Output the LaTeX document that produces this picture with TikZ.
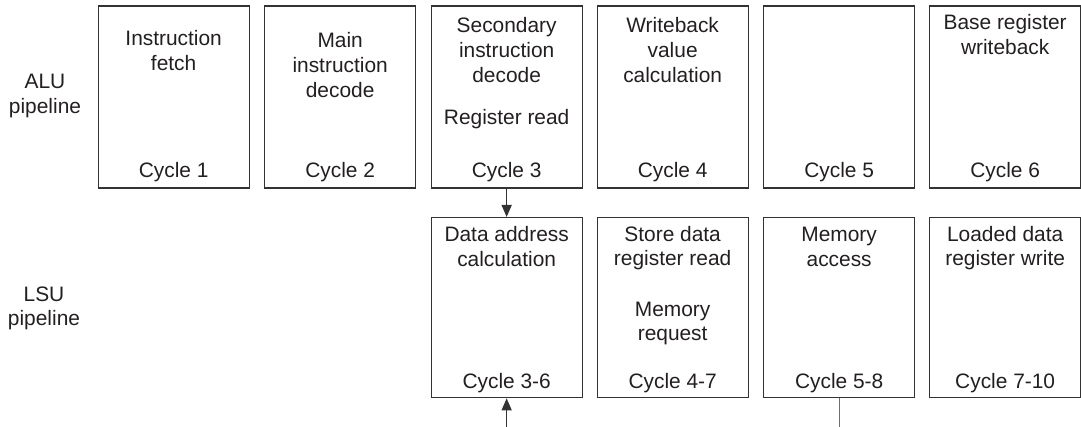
\documentclass[tikz,border=0pt]{standalone}
\usepackage{fontspec}
\setmainfont{Liberation Sans}
\usetikzlibrary{arrows.meta}
\definecolor{ink}{HTML}{231F20}
\definecolor{edge}{HTML}{333333}
\definecolor{faint}{HTML}{6E6E6E}
\begin{document}
\begin{tikzpicture}[x=1pt,y=-1pt,
  stage/.style={draw=edge, line width=1.3pt, minimum width=151pt, inner sep=0pt, anchor=north west},
  toprow/.style={stage, minimum height=182pt},
  lowrow/.style={stage, minimum height=180pt},
  % anchor=base sits on the baseline of the last line
  lbl/.style={text=ink, inner sep=0pt, align=center, anchor=base,
    font=\fontsize{20.9}{24.8}\selectfont},
  link/.style={draw=edge, line width=1.3pt, -{Triangle[length=12pt,width=10pt]}}]
\useasboundingbox (0,0) rectangle (1081,427);

% ALU pipeline stages
\node[toprow] (a1) at (97.5,5.5) {};
\node[toprow] (a2) at (264,5.5) {};
\node[toprow] (a3) at (430.5,5.5) {};
\node[toprow] (a4) at (596.5,5.5) {};
\node[toprow] (a5) at (763,5.5) {};
\node[toprow] (a6) at (929,5.5) {};

% LSU pipeline stages
\node[lowrow] (l3) at (430.5,217) {};
\node[lowrow] (l4) at (596.5,217) {};
\node[lowrow] (l5) at (763,217) {};
\node[lowrow] (l6) at (929,217) {};

% row labels
\node[lbl] (alu) at (45,113.5) {ALU\\pipeline};
\node[lbl] (lsu) at (44,326) {LSU\\pipeline};

% stage contents
\node[lbl] (t1) at (a1.center |- 0,70.5) {Instruction\\fetch};
\node[lbl] (t2) at (a2.center |- 0,97.5) {Main\\instruction\\decode};
\node[lbl] (t3) at (a3.center |- 0,82.5) {Secondary\\instruction\\decode};
\node[lbl] (t3b) at (a3.center |- 0,125) {Register read};
\node[lbl] (t4) at (a4.center |- 0,82.5) {Writeback\\value\\calculation};
\node[lbl] (t6) at (a6.center |- 0,54.5) {Base register\\writeback};

\node[lbl] (c1) at (a1.center |- 0,178) {Cycle 1};
\node[lbl] (c2) at (a2.center |- 0,178) {Cycle 2};
\node[lbl] (c3) at (a3.center |- 0,178) {Cycle 3};
\node[lbl] (c4) at (a4.center |- 0,178) {Cycle 4};
\node[lbl] (c5) at (a5.center |- 0,178) {Cycle 5};
\node[lbl] (c6) at (a6.center |- 0,178) {Cycle 6};

\node[lbl] (u3) at (l3.center |- 0,266.5) {Data address\\calculation};
\node[lbl] (u4) at (l4.center |- 0,266) {Store data\\register read};
\node[lbl] (u4b) at (l4.center |- 0,341) {Memory\\request};
\node[lbl] (u5) at (l5.center |- 0,266.5) {Memory\\access};
\node[lbl] (u6) at (l6.center |- 0,266) {Loaded data\\register write};

\node[lbl] (d3) at (l3.center |- 0,388.5) {Cycle 3-6};
\node[lbl] (d4) at (l4.center |- 0,388.5) {Cycle 4-7};
\node[lbl] (d5) at (l5.center |- 0,388.5) {Cycle 5-8};
\node[lbl] (d6) at (l6.center |- 0,388.5) {Cycle 7-10};

% connections
\coordinate (feed) at (l3.south |- 0,427);
\coordinate (out) at (l5.south |- 0,427);
\draw[link] (a3.south) -- (l3.north);
\draw[link] (feed) -- (l3.south);
\draw[draw=faint, line width=1.3pt] (l5.south) -- (out);
\end{tikzpicture}
\end{document}
